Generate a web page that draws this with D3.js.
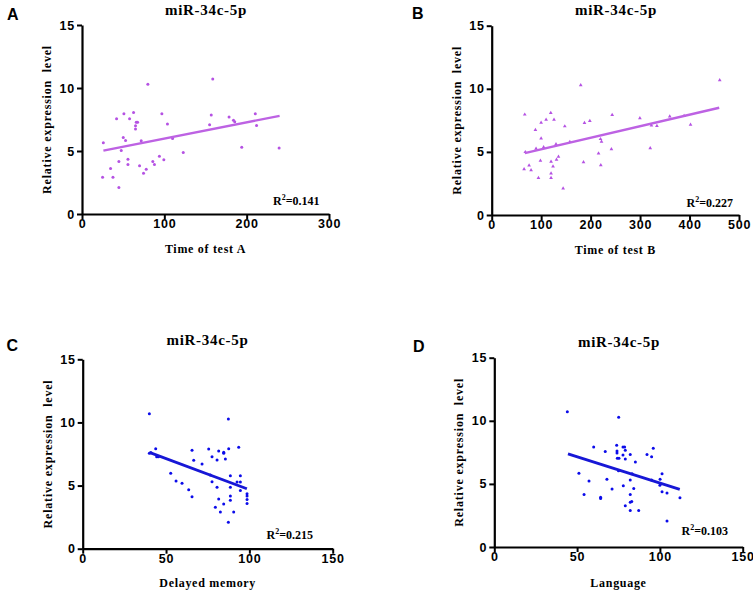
<!DOCTYPE html>
<html><head><meta charset="utf-8">
<script src="https://cdn.jsdelivr.net/npm/d3@7"></script>
<style>
html,body{margin:0;padding:0;background:#fff;}
svg{display:block;}
</style></head>
<body>
<svg id="chart" width="753" height="594"></svg>
<script>
// ---- data ----
const panelLetters = ["A", "B", "C", "D"];
const chartTitles = ["miR-34c-5p", "miR-34c-5p", "miR-34c-5p", "miR-34c-5p"];
const xTitles = ["Time of test A", "Time of test B", "Delayed memory", "Language"];
const yTitle = "Relative expression  level";
const r2Values = ["0.141", "0.227", "0.215", "0.103"];
const xTicksA = [0, 100, 200, 300];
const xTicksB = [0, 100, 200, 300, 400, 500];
const xTicksC = [0, 50, 100, 150];
const xTicksD = [0, 50, 100, 150];
const yTicks = [0, 5, 10, 15];

const xA = [25,25.9,34.7,37.6,42,44.8,44.8,47.7,50.1,50.9,52.9,55.8,55.8,57.8,62.6,65,65,65.9,67.5,69.9,71.9,74.7,78,80,86,88,94,97,99.4,103.8,110,123,155,157,158.8,178.6,184,185.5,194,210.5,212,239.4];
const yA = [2.92,5.65,3.61,2.92,7.56,2.1,4.16,5.04,6.07,7.96,5.84,4.35,3.93,7.56,8.06,7.0,6.74,7.29,7.29,3.82,5.81,3.24,3.55,10.29,4.16,3.93,4.59,7.96,4.3,7.14,6.0,4.88,7.08,7.85,10.72,7.69,7.45,7.32,5.3,7.96,7.03,5.23];

const xB = [66.8,68,65.5,75.6,79.6,88.4,89.7,94.5,99.9,99.9,98.5,110,105,119.4,120,120,120,124,126,130,131,135,144.4,147.8,158,180,185.6,187.6,198.4,216,220,222,220.6,242,243.6,299.6,320.5,323,334,360,402,389,461];
const yB = [7.96,4.99,3.63,3.93,3.55,6.74,5.25,2.94,7.32,6.07,4.30,7.56,5.38,8.09,4.22,3.29,2.94,3.85,7.56,5.62,4.38,4.62,2.1,7.03,5.8,10.29,4.19,7.29,7.45,4.88,6.02,5.81,3.95,5.22,7.93,7.67,5.3,7.1,7.06,7.82,7.16,7.86,10.69];

const xC = [40,87.4,40,41,43.8,44.4,45.4,52.8,56,59.6,63.6,65.6,65.6,66.6,71.6,75.6,77.6,76.6,77.6,80.6,81.6,80.6,79.6,81.6,82.6,84.6,84.6,84.6,85.6,87.6,88.6,88.6,88.6,88.6,87.4,90.6,93.6,92.6,94.6,94.6,94.6,98.6,98.6,98.6,98.6];
const yC = [10.69,10.27,7.55,7.6,7.92,7.29,7.29,5.97,5.36,5.18,4.67,4.12,7.79,7.0,6.71,7.9,7.29,5.84,5.31,7.02,7.74,4.86,3.28,3.94,2.91,7.63,7.55,3.54,7.1,7.92,5.78,4.86,4.17,3.83,2.09,2.91,8.03,5.28,5.78,5.28,4.6,4.36,4.17,3.9,3.58];

const xD = [44.1,75.1,60,67,73.9,74.1,74.1,74.3,75.3,77.7,78.7,77.7,79.1,79.1,82.1,85.2,92.2,95,96,51.1,57.2,54.2,64.2,64.2,68,71.1,77.9,75,82.1,83.2,84.2,82.1,82.1,83,79.1,82.1,87.2,95,100.1,101.3,100,101.3,104.3,104.3,112.1];
const yD = [10.72,10.29,7.93,7.56,8.06,7.61,7.45,7.03,7.03,7.93,7.93,7.29,7.67,6.98,7.32,6.74,7.32,7.16,7.82,5.84,5.23,4.16,3.95,3.85,5.36,4.59,4.85,6.05,5.31,5.81,4.64,4.16,3.55,3.6,3.26,2.89,2.89,5.31,5.36,5.81,4.9,4.38,4.27,2.07,3.9];

// regression line end points [x0, y0, x1, y1]
const fitA = [26, 5.03, 240, 7.79];
const fitB = [67, 4.9, 460, 8.5];
const fitC = [40, 7.63, 98.5, 4.75];
const fitD = [44.5, 7.38, 112, 4.57];

// ---- layout (not data) ----
const panels = [
  {letter: panelLetters[0], title: chartTitles[0], xt: xTitles[0], r2: r2Values[0], xs: xA, ys: yA, fit: fitA, xTicks: xTicksA,
   L: 82, R: 329, T: 25, B: 214, color: "#b552e3", lineColor: "#bd62e3", shape: "circle", lw: 2.4,
   letterPos: [7, 20], titlePos: [206, 15], xtY: 253, r2Pos: [273, 205]},
  {letter: panelLetters[1], title: chartTitles[1], xt: xTitles[1], r2: r2Values[1], xs: xB, ys: yB, fit: fitB, xTicks: xTicksB,
   L: 491.7, R: 739, T: 25.7, B: 215, color: "#b552e3", lineColor: "#bd62e3", shape: "triangle", lw: 2.4,
   letterPos: [412, 19], titlePos: [616, 15], xtY: 254, r2Pos: [686.5, 207]},
  {letter: panelLetters[2], title: chartTitles[2], xt: xTitles[2], r2: r2Values[2], xs: xC, ys: yC, fit: fitC, xTicks: xTicksC,
   L: 82.7, R: 332.7, T: 359.3, B: 548.7, color: "#0b0bea", lineColor: "#1717d6", shape: "circle", lw: 2.8,
   letterPos: [6.5, 351], titlePos: [207.5, 345], xtY: 587, r2Pos: [266.5, 539]},
  {letter: panelLetters[3], title: chartTitles[3], xt: xTitles[3], r2: r2Values[3], xs: xD, ys: yD, fit: fitD, xTicks: xTicksD,
   L: 494.3, R: 742.7, T: 357.7, B: 547, color: "#0b0bea", lineColor: "#1717d6", shape: "circle", lw: 2.8,
   letterPos: [413, 352], titlePos: [619, 346.5], xtY: 587, r2Pos: [681.5, 535]}
];

const svg = d3.select("#chart");
const serif = "'Liberation Serif','Times New Roman',serif";
const sans = "'Liberation Sans',Arial,sans-serif";

panels.forEach(p => {
  const x = d3.scaleLinear().domain([p.xTicks[0], p.xTicks[p.xTicks.length - 1]]).range([p.L, p.R]);
  const y = d3.scaleLinear().domain([yTicks[0], yTicks[yTicks.length - 1]]).range([p.B, p.T]);
  const g = svg.append("g");

  // axes
  const xAxis = d3.axisBottom(x).tickValues(p.xTicks).tickSize(5).tickPadding(0).tickSizeOuter(0);
  const yAxis = d3.axisLeft(y).tickValues(yTicks).tickSize(5).tickPadding(2).tickSizeOuter(0);
  const gx = g.append("g").attr("transform", `translate(0,${p.B})`).call(xAxis);
  const gy = g.append("g").attr("transform", `translate(${p.L},0)`).call(yAxis);
  [gx, gy].forEach(a => {
    a.select(".domain").attr("stroke", "#000").attr("stroke-width", 2.2);
    a.selectAll(".tick line").attr("stroke", "#000").attr("stroke-width", 2);
    a.selectAll(".tick text").attr("fill", "#000").style("font-family", sans)
      .style("font-weight", "bold").style("font-size", "12.5px").style("letter-spacing", "0.8px");
  });

  // points
  const pts = p.xs.map((v, i) => [v, p.ys[i]]);
  if (p.shape === "triangle") {
    const sym = d3.symbol().type(d3.symbolTriangle).size(6);
    g.append("g").selectAll("path").data(pts).join("path")
      .attr("d", sym).attr("transform", d => `translate(${x(d[0])},${y(d[1])})`)
      .attr("fill", p.color);
  } else {
    g.append("g").selectAll("circle").data(pts).join("circle")
      .attr("cx", d => x(d[0])).attr("cy", d => y(d[1])).attr("r", 1.5)
      .attr("fill", p.color);
  }

  // fit line
  g.append("line")
    .attr("x1", x(p.fit[0])).attr("y1", y(p.fit[1]))
    .attr("x2", x(p.fit[2])).attr("y2", y(p.fit[3]))
    .attr("stroke", p.lineColor).attr("stroke-width", p.lw);

  // panel letter
  g.append("text").attr("x", p.letterPos[0]).attr("y", p.letterPos[1])
    .text(p.letter).style("font-family", sans).style("font-weight", "bold").style("font-size", "16px");

  // title
  g.append("text").attr("x", p.titlePos[0]).attr("y", p.titlePos[1]).attr("text-anchor", "middle")
    .text(p.title).style("font-family", serif).style("font-weight", "bold")
    .style("font-size", "15px").style("letter-spacing", "0.7px");

  // x title
  g.append("text").attr("x", (p.L + p.R) / 2).attr("y", p.xtY).attr("text-anchor", "middle")
    .text(p.xt).style("font-family", serif).style("font-weight", "bold")
    .style("font-size", "12px").style("letter-spacing", "0.7px");

  // y title
  g.append("text")
    .attr("transform", `translate(${p.L - 31},${(p.T + p.B) / 2}) rotate(-90)`)
    .attr("text-anchor", "middle")
    .style("white-space", "pre")
    .text(yTitle).style("font-family", serif).style("font-weight", "bold")
    .style("font-size", "12px").style("letter-spacing", "0.8px");

  // R^2
  const t = g.append("text").attr("x", p.r2Pos[0]).attr("y", p.r2Pos[1])
    .style("font-family", serif).style("font-weight", "bold").style("font-size", "12px");
  t.append("tspan").text("R");
  t.append("tspan").attr("dy", -5).style("font-size", "8px").text("2");
  t.append("tspan").attr("dy", 5).text("=" + p.r2);
});
</script>
</body></html>
